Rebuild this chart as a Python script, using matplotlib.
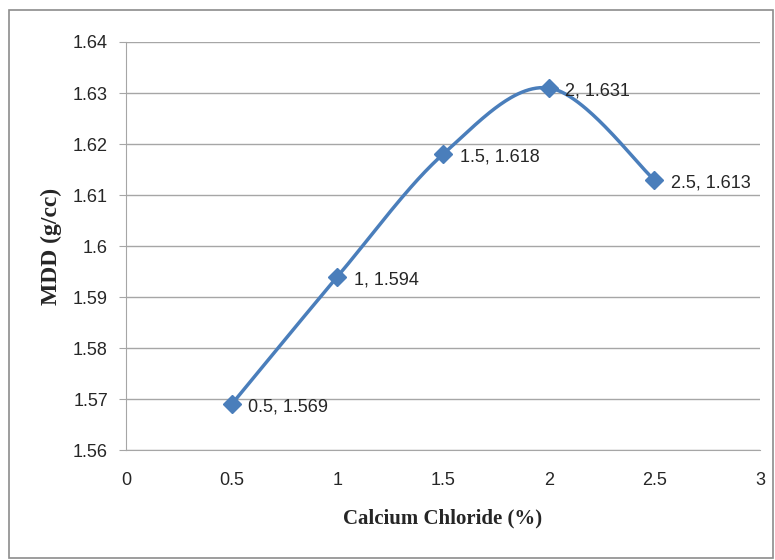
import numpy as np
import matplotlib
matplotlib.use("Agg")
import matplotlib.pyplot as plt
from matplotlib.patches import Rectangle

calcium_chloride = [0.5, 1.0, 1.5, 2.0, 2.5]
mdd = [1.569, 1.594, 1.618, 1.631, 1.613]
point_labels = ["0.5, 1.569", "1, 1.594", "1.5, 1.618", "2, 1.631", "2.5, 1.613"]
x_ticks = [0, 0.5, 1, 1.5, 2, 2.5, 3]
x_tick_labels = ["0", "0.5", "1", "1.5", "2", "2.5", "3"]
y_ticks = [1.56, 1.57, 1.58, 1.59, 1.60, 1.61, 1.62, 1.63, 1.64]
y_tick_labels = ["1.56", "1.57", "1.58", "1.59", "1.6", "1.61", "1.62", "1.63", "1.64"]


def smooth_curve(xs, ys, n=60):
    """Cubic Bezier smoothing through the points (spreadsheet-style)."""
    xs = np.asarray(xs, float)
    ys = np.asarray(ys, float)
    px = np.concatenate([[xs[0]], xs, [xs[-1]]])
    py = np.concatenate([[ys[0]], ys, [ys[-1]]])
    out_x, out_y = [], []
    t = np.linspace(0, 1, n)
    for i in range(1, len(px) - 2):
        p0 = np.array([px[i], py[i]])
        p3 = np.array([px[i + 1], py[i + 1]])
        p1 = p0 + (np.array([px[i + 1], py[i + 1]]) - np.array([px[i - 1], py[i - 1]])) / 6
        p2 = p3 - (np.array([px[i + 2], py[i + 2]]) - np.array([px[i], py[i]])) / 6
        b = ((1 - t) ** 3)[:, None] * p0 + (3 * (1 - t) ** 2 * t)[:, None] * p1 \
            + (3 * (1 - t) * t ** 2)[:, None] * p2 + (t ** 3)[:, None] * p3
        out_x.extend(b[:, 0])
        out_y.extend(b[:, 1])
    return np.array(out_x), np.array(out_y)


fig = plt.figure(figsize=(7.75, 5.6), dpi=100)
fig.patch.set_facecolor("white")
fig.patches.append(Rectangle((0.012, 0.004), 0.985, 0.978, transform=fig.transFigure,
                             fill=False, edgecolor="#8c8c8c", linewidth=1.2))

ax = fig.add_axes([0.1626, 0.196, 0.818, 0.729])
line_color = "#4a7ebb"
grid_color = "#a6a6a6"
text_color = "#262626"

sx, sy = smooth_curve(calcium_chloride, mdd)
ax.plot(sx, sy, color=line_color, linewidth=2.5, zorder=3)
ax.plot(calcium_chloride, mdd, linestyle="none", marker="D", markersize=9.5,
        color=line_color, zorder=4)

for x, y, lab in zip(calcium_chloride, mdd, point_labels):
    ax.annotate(lab, (x, y), xytext=(12, -2), textcoords="offset points",
                ha="left", va="center", fontsize=13, color=text_color,
                family="Liberation Sans", zorder=5)

ax.set_xlim(0, 3)
ax.set_ylim(1.56, 1.64)
ax.set_xticks(x_ticks)
ax.set_xticklabels(x_tick_labels)
ax.set_yticks(y_ticks)
ax.set_yticklabels(y_tick_labels)
for lab in ax.get_xticklabels() + ax.get_yticklabels():
    lab.set_family("Liberation Sans")
    lab.set_fontsize(13)
    lab.set_color(text_color)

ax.grid(axis="y", color=grid_color, linewidth=1)
ax.set_axisbelow(True)
for side in ["top", "right"]:
    ax.spines[side].set_visible(False)
ax.spines["left"].set_color(grid_color)
ax.spines["bottom"].set_color(grid_color)
ax.tick_params(axis="x", length=0, pad=16)
ax.tick_params(axis="y", length=5, color=grid_color, direction="out", pad=8)

ax.set_xlabel("Calcium Chloride (%)", family="Liberation Serif", fontweight="bold",
              fontsize=15, labelpad=14, color=text_color)
ax.set_ylabel("MDD (g/cc)", family="Liberation Serif", fontweight="bold",
              fontsize=17, labelpad=8, color=text_color)

fig.savefig("out.png", dpi=100, facecolor="white")
